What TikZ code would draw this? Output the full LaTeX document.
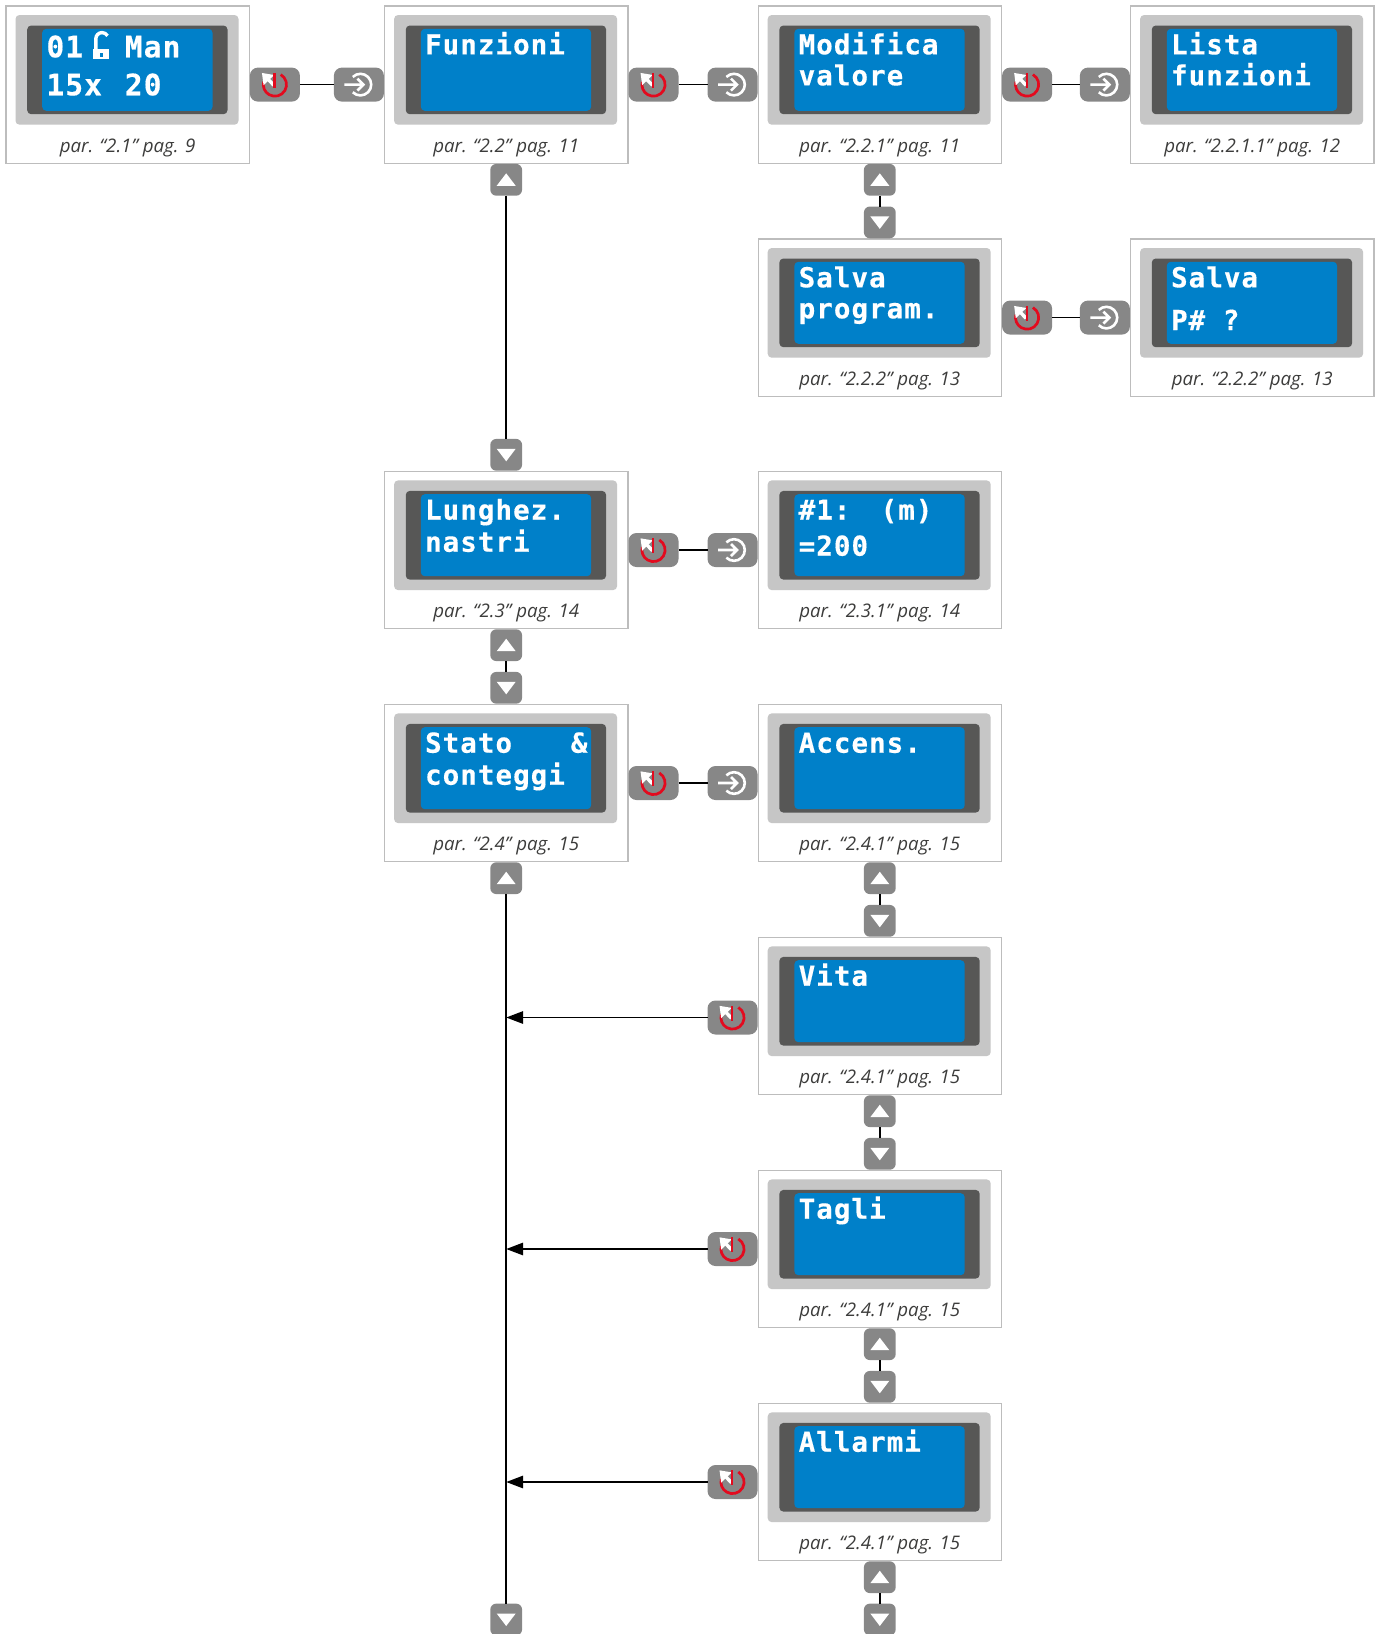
\documentclass[tikz,border=0pt]{standalone}
\usepackage{fontspec}
\setmainfont{Open Sans}
\newfontfamily\lcdfont[LetterSpace=3.8, FakeBold=0.4]{DejaVu Sans Mono Bold}
\usetikzlibrary{arrows.meta, positioning, calc}

\definecolor{framegray}{HTML}{BDBDBD}
\definecolor{casegray}{HTML}{C6C6C6}
\definecolor{bezelgray}{HTML}{575756}
\definecolor{lcdblue}{HTML}{0080C9}
\definecolor{keygray}{HTML}{878787}
\definecolor{pwrred}{HTML}{E30A1E}
\definecolor{capgray}{HTML}{3C3C3B}

\newcommand{\lcdpanel}[7]{%
    \node[panel, #2] (#1) {};
    \node[lcdcase, anchor=north west] (#1case) at ($(#1.north west)+(10,-9.5)$) {};
    \node[lcdbezel, anchor=north west] (#1bezel) at ($(#1.north west)+(21.7,-20)$) {};
    \node[lcdscreen, anchor=north west] (#1screen) at ($(#1.north west)+(36.7,-23.3)$) {};
    \node[lcdtext] (#1top) at ($(#1.north west)+(41,-#5)$) {#3};
    \node[lcdtext] (#1low) at ($(#1.north west)+(41,-#6)$) {#4};
    \node[caption] (#1cap) at ($(#1.north)+(0,-147)$) {#7};
}

\begin{document}
\begin{tikzpicture}[
    x=1pt, y=1pt,
    panel/.style={draw=framegray, line width=1.2pt, fill=white, minimum width=243.4pt, minimum height=157.4pt, inner sep=0pt},
    lcdcase/.style={fill=casegray, rounded corners=4pt, minimum width=223pt, minimum height=109.7pt, inner sep=0pt},
    lcdbezel/.style={fill=bezelgray, rounded corners=4pt, minimum width=200.3pt, minimum height=88.7pt, inner sep=0pt},
    lcdscreen/.style={fill=lcdblue, rounded corners=4pt, minimum width=170.3pt, minimum height=82pt, inner sep=0pt},
    lcdtext/.style={anchor=base west, inner sep=0pt, text=white, font=\fontsize{27.5}{28}\lcdfont},
    caption/.style={anchor=base, inner sep=0pt, text=capgray, font=\fontsize{18.7}{20}\selectfont\itshape},
    wirekey/.style={fill=keygray, rounded corners=8pt, minimum width=50pt, minimum height=34pt, inner sep=0pt, outer sep=0pt},
    arrowkey/.style={fill=keygray, rounded corners=6pt, minimum width=31.8pt, minimum height=31.8pt, inner sep=0pt, outer sep=0pt},
    pwrkey/.style={wirekey, path picture={
        \begin{scope}[sharp corners, shift={(path picture bounding box.center)}]
            \draw[pwrred, line width=2.7pt] (60:11.6) arc[start angle=60, end angle=-195, radius=11.6];
            \draw[white, line width=3.4pt, -{Triangle[length=10pt, width=14pt]}] (-1,-0.7) -- (-13,11.7);
            \draw[pwrred, line width=2.2pt] (-0.5,11.7) -- (-0.5,-3.3);
        \end{scope}}},
    entkey/.style={wirekey, path picture={
        \begin{scope}[sharp corners, shift={(path picture bounding box.center)}]
            \draw[white, line width=2.6pt] (1.5,0)+(135:10.8) arc[start angle=135, end angle=-135, radius=10.8];
            \draw[white, line width=2.6pt] (-14.5,0) -- (4.5,0) (-1.5,6) -- (4.5,0) -- (-1.5,-6);
        \end{scope}}},
    upkey/.style={arrowkey, path picture={
        \fill[white, sharp corners] ($(path picture bounding box.center)+(-9.5,-6)$) -- ++(19,0) -- ++(-9.5,12.5) -- cycle;}},
    downkey/.style={arrowkey, path picture={
        \fill[white, sharp corners] ($(path picture bounding box.center)+(-9.5,6)$) -- ++(19,0) -- ++(-9.5,-12.5) -- cycle;}},
    wire/.style={black, line width=1.6pt},
    tick/.style={white, line width=3.4pt}
]
    \useasboundingbox (0,0) rectangle (1376,-1634);

    \lcdpanel{home}{anchor=north west, at={(5.3,-5.3)}}{\fontsize{29.5}{30}\lcdfont 01\hspace{4pt}~~Man}{\fontsize{29.5}{30}\lcdfont 15x\hspace{4pt}~20}{52}{90}{par. “2.1” pag. 9}
    \lcdpanel{funzioni}{right=134pt of home}{Funzioni}{}{49}{80}{par. “2.2” pag. 11}
    \lcdpanel{modifica}{right=129pt of funzioni}{Modifica}{valore}{49}{80}{par. “2.2.1” pag. 11}
    \lcdpanel{lista}{right=127.8pt of modifica}{Lista}{funzioni}{49}{80}{par. “2.2.1.1” pag. 12}
    \lcdpanel{salva}{below=74.4pt of modifica}{Salva}{program.}{49}{80}{par. “2.2.2” pag. 13}
    \lcdpanel{salvap}{below=74.4pt of lista}{Salva}{P\# ?}{49}{91.7}{par. “2.2.2” pag. 13}
    \lcdpanel{lunghez}{below=306.8pt of funzioni}{Lunghez.}{nastri}{49}{81}{par. “2.3” pag. 14}
    \lcdpanel{metri}{right=129pt of lunghez}{\#1:~~\hspace{-5pt}(m)}{=200}{49}{85}{par. “2.3.1” pag. 14}
    \lcdpanel{stato}{below=74.4pt of lunghez}{Stato~~~\hspace{6pt}\&}{conteggi}{49}{81}{par. “2.4” pag. 15}
    \lcdpanel{accens}{right=129pt of stato}{Accens.}{}{49}{80}{par. “2.4.1” pag. 15}
    \lcdpanel{vita}{below=74.4pt of accens}{Vita}{}{49}{80}{par. “2.4.1” pag. 15}
    \lcdpanel{tagli}{below=74.4pt of vita}{Tagli}{}{49}{80}{par. “2.4.1” pag. 15}
    \lcdpanel{allarmi}{below=74.4pt of tagli}{Allarmi}{}{49}{80}{par. “2.4.1” pag. 15}

    \fill[white] ($(home.north west)+(88,-44)$) rectangle ($(home.north west)+(104,-54)$);
    \fill[lcdblue] ($(home.north west)+(94.5,-47.5)$) rectangle ($(home.north west)+(97.5,-51.5)$);
    \draw[tick] ($(home.north west)+(90.5,-44)$) -- ++(0,10.4) arc[start angle=180, end angle=30, radius=6.3];

    \foreach \from/\to in {home/funzioni, funzioni/modifica, modifica/lista, salva/salvap, lunghez/metri, stato/accens} {
        \node[pwrkey, right=0pt of \from] (\from pwr) {};
        \node[entkey, left=0pt of \to] (\to ent) {};
        \draw[wire] (\from pwr) -- (\to ent);
    }

    \foreach \upper/\lower in {funzioni/lunghez, modifica/salva, lunghez/stato, accens/vita, vita/tagli, tagli/allarmi} {
        \node[upkey, below=0pt of \upper] (\upper up) {};
        \node[downkey, above=0pt of \lower] (\lower down) {};
        \draw[wire] (\upper up) -- (\lower down);
    }

    \node[upkey, below=0pt of allarmi] (allarmi up) {};
    \node[downkey, below=10.5pt of allarmi up] (fine down) {};
    \draw[wire] (allarmi up) -- (fine down);

    \node[upkey, below=0pt of stato] (stato up) {};
    \node[downkey] (stato down) at (stato up |- fine down) {};
    \draw[wire] (stato up) -- (stato down);

    \foreach \item/\gap in {vita/1.5, tagli/0, allarmi/0} {
        \node[pwrkey, left=0pt of \item, yshift=-\gap pt] (\item pwr) {};
        \coordinate (\item join) at (stato up |- \item pwr);
        \draw[wire, -{Triangle[length=17pt, width=12.5pt]}] (\item pwr) -- (\item join);
    }
\end{tikzpicture}
\end{document}
